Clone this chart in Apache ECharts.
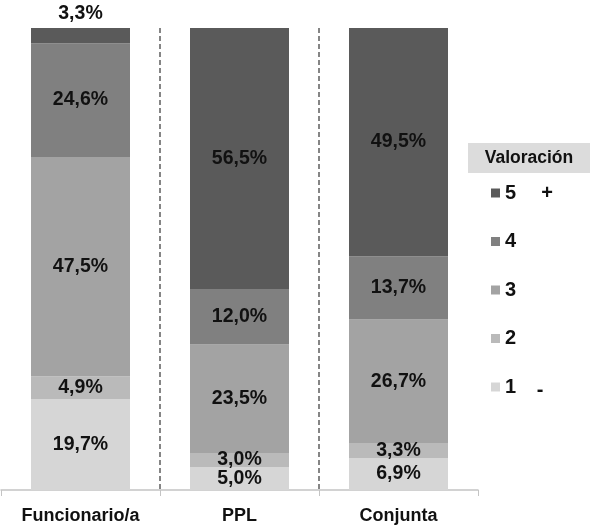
<!DOCTYPE html>
<html lang="es">
<head>
    <meta charset="UTF-8">
    <title>Valoración</title>
    <script src="https://cdn.jsdelivr.net/npm/echarts@6/dist/echarts.min.js"></script>
    <style type="text/css">
        *{margin:0;padding:0;}
        body{background:#fff;}
        #main{width:591px;height:527px;}
    </style>
</head>
<body>
<div id="main"></div>
<script type="text/javascript">
    // datos
    var categorias = ['Funcionario/a', 'PPL', 'Conjunta'];
    var niveles = ['1', '2', '3', '4', '5'];
    var v1 = [19.7, 5.0, 6.9];
    var v2 = [4.9, 3.0, 3.3];
    var v3 = [47.5, 23.5, 26.7];
    var v4 = [24.6, 12.0, 13.7];
    var v5 = [3.3, 56.5, 49.5];
    var valores = [v1, v2, v3, v4, v5];
    var colores = ['#d6d6d6', '#bababa', '#a3a3a3', '#808080', '#5a5a5a'];

    var fuente = 'Liberation Sans, Arial, sans-serif';

    function fmt(p) {
        return p.value.toFixed(1).replace('.', ',') + '%';
    }

    var series = niveles.map(function (n, i) {
        return {
            name: n,
            type: 'bar',
            stack: 'total',
            barWidth: 99,
            itemStyle: { color: colores[i] },
            label: {
                show: true,
                position: 'inside',
                formatter: fmt,
                color: '#111',
                fontFamily: fuente,
                fontWeight: 'bold',
                fontSize: 19.5
            },
            data: valores[i].map(function (v, j) {
                // la etiqueta pequeña de arriba va encima de la barra
                if (i === 4 && j === 0) {
                    return { value: v, label: { position: 'top', distance: 4 } };
                }
                return v;
            })
        };
    });

    var myChart = echarts.init(document.getElementById('main'));
    var option = {
        backgroundColor: '#fff',
        animation: false,
        grid: { left: 1, right: 113, top: 28, bottom: 37 },
        legend: {
            orient: 'vertical',
            left: 486,
            top: 178,
            itemWidth: 9,
            itemHeight: 9,
            itemGap: 28.5,
            icon: 'rect',
            data: ['5', '4', '3', '2', '1'],
            textStyle: {
                fontFamily: fuente,
                fontWeight: 'bold',
                fontSize: 20,
                color: '#111'
            }
        },
        xAxis: {
            type: 'category',
            data: categorias,
            axisLine: { lineStyle: { color: '#c4c4c4', width: 1.5 } },
            axisTick: { show: true, length: 6, lineStyle: { color: '#c4c4c4' } },
            axisLabel: {
                margin: 17,
                fontFamily: fuente,
                fontWeight: 'bold',
                fontSize: 18,
                color: '#111'
            },
            splitLine: {
                show: true,
                showMinLine: false,
                showMaxLine: false,
                lineStyle: { color: '#858585', width: 2, type: [5, 3] }
            }
        },
        yAxis: {
            type: 'value',
            min: 0,
            max: 100,
            show: false
        },
        graphic: [
            {
                type: 'rect',
                shape: { x: 468, y: 143, width: 122, height: 30 },
                style: { fill: '#dcdcdc' }
            },
            {
                type: 'text',
                x: 529, y: 158,
                style: {
                    text: 'Valoración',
                    fontFamily: fuente, fontWeight: 'bold', fontSize: 17.5,
                    fill: '#111', align: 'center', verticalAlign: 'middle'
                }
            },
            {
                type: 'text',
                x: 547, y: 193,
                style: {
                    text: '+',
                    fontFamily: fuente, fontWeight: 'bold', fontSize: 20,
                    fill: '#111', align: 'center', verticalAlign: 'middle'
                }
            },
            {
                type: 'text',
                x: 540, y: 390,
                style: {
                    text: '-',
                    fontFamily: fuente, fontWeight: 'bold', fontSize: 20,
                    fill: '#111', align: 'center', verticalAlign: 'middle'
                }
            }
        ],
        series: series
    };
    myChart.setOption(option);
</script>
</body>
</html>
